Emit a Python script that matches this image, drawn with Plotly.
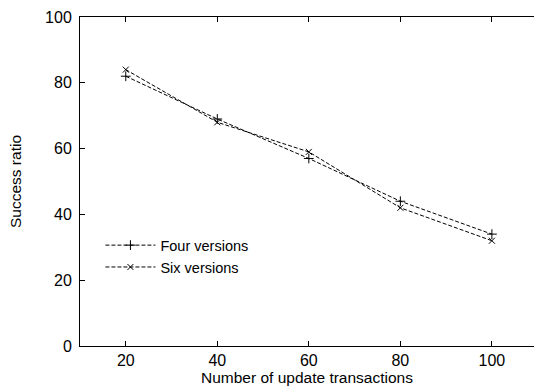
import plotly.graph_objects as go

transactions = [20, 40, 60, 80, 100]
four_versions = [82, 69, 57, 44, 34]
six_versions = [84, 68, 59, 42, 32]
x_ticks = [20, 40, 60, 80, 100]
y_ticks = [0, 20, 40, 60, 80, 100]

FONT = "Liberation Sans, Arial, sans-serif"

fig = go.Figure()
fig.add_trace(go.Scatter(
    x=transactions, y=four_versions, name="Four versions",
    mode="lines+markers",
    line=dict(color="black", width=1, dash="4px,2px"),
    marker=dict(symbol="cross-thin", size=7, color="black",
                line=dict(color="black", width=1)),
))
fig.add_trace(go.Scatter(
    x=transactions, y=six_versions, name="Six versions",
    mode="lines+markers",
    line=dict(color="black", width=1, dash="4px,2px"),
    marker=dict(symbol="x-thin", size=6, color="black",
                line=dict(color="black", width=1)),
))

fig.update_layout(
    width=534, height=391,
    margin=dict(l=80, r=0, t=17, b=45),
    plot_bgcolor="white", paper_bgcolor="white",
    font=dict(family=FONT, size=15, color="black"),
    showlegend=True,
    legend=dict(x=0.045, y=0.355, xanchor="left", yanchor="top",
                bgcolor="rgba(0,0,0,0)", font=dict(size=14.5),
                tracegroupgap=0, itemwidth=50),
    xaxis=dict(range=[10, 109.2], tickvals=x_ticks,
               tickfont=dict(size=16),
               showline=True, linecolor="black", linewidth=1,
               mirror="ticks", ticks="inside", ticklen=5,
               tickcolor="black", showgrid=False, zeroline=False,
               title=dict(text="Number of update transactions",
                          font=dict(size=15.5), standoff=3)),
    yaxis=dict(range=[0, 100], tickvals=y_ticks,
               tickfont=dict(size=16), ticklabelstandoff=4,
               showline=True, linecolor="black", linewidth=1,
               ticks="inside", ticklen=5, tickcolor="black",
               showgrid=False, zeroline=False,
               title=dict(text="Success ratio",
                          font=dict(size=15.5), standoff=19)),
)

fig.write_html("out.html")
